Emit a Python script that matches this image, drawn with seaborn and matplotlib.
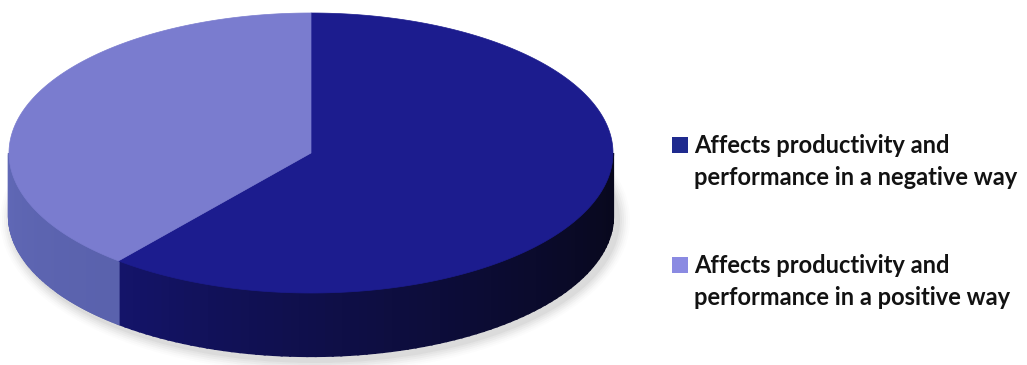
import numpy as np
import matplotlib
matplotlib.use("Agg")
import matplotlib.pyplot as plt
import seaborn as sns
from matplotlib.patches import Polygon, Rectangle, Ellipse
from matplotlib.colors import to_rgb

# ---- data ----
label_lines = [["Affects productivity and", "performance in a negative way"],
               ["Affects productivity and", "performance in a positive way"]]
values = [61, 39]
top_colors = ["#1c1c8e", "#7a7ccf"]
side_colors_near = ["#14146a", "#6068b6"]   # side colour at the slice's left end
side_colors_far = ["#08081c", "#5a62ad"]    # side colour at the slice's right end
legend_colors = ["#1f2a8e", "#8a8ae2"]

sns.set_style("white")
plt.rcParams['font.family'] = ['Lato', 'DejaVu Sans']

fig = plt.figure(figsize=(10.27, 3.65), dpi=100)
ax = fig.add_axes([0, 0, 1, 1])
ax.set_xlim(0, 1027)
ax.set_ylim(365, 0)
ax.axis('off')

cx, cy, rx, ry, depth = 311, 153, 302, 140, 63


def rim(t_deg, dy=0.0):
    t = np.radians(t_deg)
    return cx + rx * np.sin(t), cy - ry * np.cos(t) + dy


# soft shadow
for k, a in enumerate(np.linspace(0.05, 0.012, 6)):
    ax.add_patch(Ellipse((cx + 4, cy + depth + 4), 2 * rx + 6 + 4 * k, 2 * ry + 6 + 4 * k,
                         facecolor="#404040", edgecolor="none", alpha=a, zorder=0))

fr = np.array(values, dtype=float) / np.sum(values)
ends = np.cumsum(fr) * 360.0
starts = np.concatenate([[0.0], ends[:-1]])

# side walls (visible front half: 90..270 deg clockwise from top)
for i in range(len(values)):
    a0, a1 = max(starts[i], 90.0), min(ends[i], 270.0)
    if a1 <= a0:
        continue
    n = 80
    ts = np.linspace(a0, a1, n + 1)
    c_far = np.array(to_rgb(side_colors_far[i]))
    c_near = np.array(to_rgb(side_colors_near[i]))
    for j in range(n):
        tA, tB = ts[j], ts[j + 1]
        s = ((tA + tB) / 2 - a0) / (a1 - a0)
        s = s ** 1.4
        col = c_far * (1 - s) + c_near * s
        seg = np.linspace(tA, tB, 4)
        xt, yt = rim(seg)
        xb, yb = rim(seg[::-1], depth)
        pts = np.column_stack([np.concatenate([xt, xb]), np.concatenate([yt, yb])])
        ax.add_patch(Polygon(pts, closed=True, facecolor=col, edgecolor=col,
                             linewidth=1.6, joinstyle='miter', zorder=2))

# top faces
for i in range(len(values)):
    ts = np.linspace(starts[i], ends[i], 300)
    xt, yt = rim(ts)
    pts = np.column_stack([np.concatenate([[cx], xt]), np.concatenate([[cy], yt])])
    ax.add_patch(Polygon(pts, closed=True, facecolor=top_colors[i],
                         edgecolor=top_colors[i], linewidth=0.5, zorder=3))

# legend
square_y = [137, 257]
baselines = [[153, 185], [273, 305]]
for i in range(len(values)):
    ax.add_patch(Rectangle((672, square_y[i]), 16, 16, facecolor=legend_colors[i],
                           edgecolor="none", zorder=4))
    for line, yb in zip(label_lines[i], baselines[i]):
        ax.text(694, yb, line, fontsize=17, fontweight='bold', color="#121212",
                ha='left', va='baseline', zorder=4)

fig.savefig("out.png", dpi=100, facecolor="white")
